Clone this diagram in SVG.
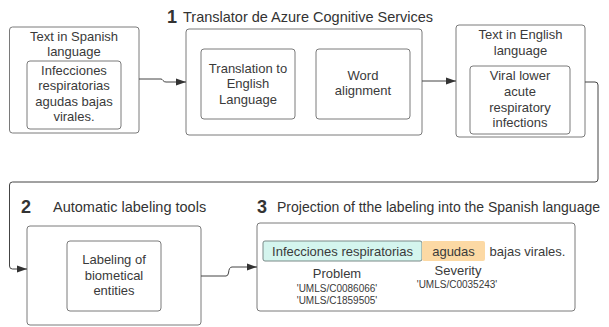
<svg xmlns="http://www.w3.org/2000/svg" width="609" height="327" viewBox="0 0 609 327">
<defs>
<style>
.box{fill:#fff;stroke:#7a7a7a;stroke-width:1}
.t{font-family:"Liberation Sans",Arial,sans-serif;font-size:13px;fill:#3a3a3a;text-anchor:middle}
.h{font-family:"Liberation Sans",Arial,sans-serif;font-size:14.5px;fill:#333}
.n{font-family:"Liberation Sans",Arial,sans-serif;font-size:18px;font-weight:bold;fill:#333}
.s{font-family:"Liberation Sans",Arial,sans-serif;font-size:10px;fill:#3a3a3a;text-anchor:middle}
.c{fill:none;stroke:#444;stroke-width:1}
</style>
<marker id="arr" viewBox="0 0 10 10" refX="10" refY="5" markerWidth="10" markerHeight="10" markerUnits="userSpaceOnUse" orient="auto">
<path d="M0,1.5 L10,5 L0,8.5 Z" fill="#333"/>
</marker>
</defs>
<rect width="609" height="327" fill="#fff"/>

<g id="spanish">
<rect class="box" x="9.5" y="27" width="129.5" height="106" rx="3"/>
<text class="t" x="74" y="40.5">Text in Spanish</text>
<text class="t" x="74" y="56">language</text>
<rect class="box" x="27" y="61" width="94" height="68" rx="3"/>
<text class="t" x="74" y="74.5">Infecciones</text>
<text class="t" x="74" y="90">respiratorias</text>
<text class="t" x="74" y="105.5">agudas bajas</text>
<text class="t" x="74" y="121">virales.</text>
</g>

<g id="azure">
<text class="n" x="167" y="23">1</text>
<text class="h" x="183" y="22">Translator de Azure Cognitive Services</text>
<rect class="box" x="186" y="29" width="236" height="106" rx="3"/>
<g id="translation">
<rect class="box" x="201" y="49" width="94" height="70" rx="3"/>
<text class="t" x="248" y="72.5">Translation to</text>
<text class="t" x="248" y="88">English</text>
<text class="t" x="248" y="103.5">Language</text>
</g>
<g id="alignment">
<rect class="box" x="316" y="49" width="94" height="70" rx="3"/>
<text class="t" x="363" y="79.5">Word</text>
<text class="t" x="363" y="95">alignment</text>
</g>
</g>

<g id="english">
<rect class="box" x="456" y="25" width="129" height="112" rx="3"/>
<text class="t" x="520.5" y="38.5">Text in English</text>
<text class="t" x="520.5" y="54.5">language</text>
<rect class="box" x="470" y="66" width="100" height="68" rx="3"/>
<text class="t" x="520" y="79.5">Viral lower</text>
<text class="t" x="520" y="95.5">acute</text>
<text class="t" x="520" y="111.5">respiratory</text>
<text class="t" x="520" y="126.5">infections</text>
</g>

<g id="labeling">
<text class="n" x="21" y="213">2</text>
<text class="h" x="53" y="212">Automatic labeling tools</text>
<rect class="box" x="27" y="226" width="174" height="99" rx="3"/>
<rect class="box" x="67" y="241" width="94" height="70" rx="3"/>
<text class="t" x="114" y="263.5">Labeling of</text>
<text class="t" x="114" y="279.5">biometical</text>
<text class="t" x="114" y="294.5">entities</text>
</g>

<g id="projection">
<text class="n" x="257" y="213">3</text>
<text class="h" x="277" y="212" style="font-size:14px">Projection of tthe labeling into the Spanish language</text>
<rect class="box" x="257" y="223" width="318" height="88" rx="3"/>
<rect x="263" y="241" width="159" height="20" rx="2" fill="#d4f5ee" stroke="#7a8a88" stroke-width="1"/>
<rect x="422" y="241" width="63" height="20" rx="2" fill="#fcd9a4"/>
<text class="t" x="342.5" y="255.5">Infecciones respiratorias</text>
<text class="t" x="453.5" y="255.5">agudas</text>
<text class="t" x="527.5" y="255.5">bajas virales.</text>
<text class="t" x="337" y="277.5">Problem</text>
<text class="s" x="337" y="291.5">'UMLS/C0086066'</text>
<text class="s" x="337" y="303.5">'UMLS/C1859505'</text>
<text class="t" x="458" y="274.5">Severity</text>
<text class="s" x="457" y="287.5">'UMLS/C0035243'</text>
</g>

<g id="connectors">
<path class="c" d="M139,79 H161 Q162,79 163,80.5 Q164,82 166,82 H186" marker-end="url(#arr)"/>
<path class="c" d="M422,81 H456" marker-end="url(#arr)"/>
<path class="c" d="M585,82 H595 Q598,82 598,85 V179 Q598,182 595,182 H12.5 Q9.5,182 9.5,185 V266 Q9.5,269 12.5,269 H27" marker-end="url(#arr)"/>
<path class="c" d="M201,276 H226 Q228,276 228.5,273 Q229,267 232,267 H257" marker-end="url(#arr)"/>
</g>
</svg>
